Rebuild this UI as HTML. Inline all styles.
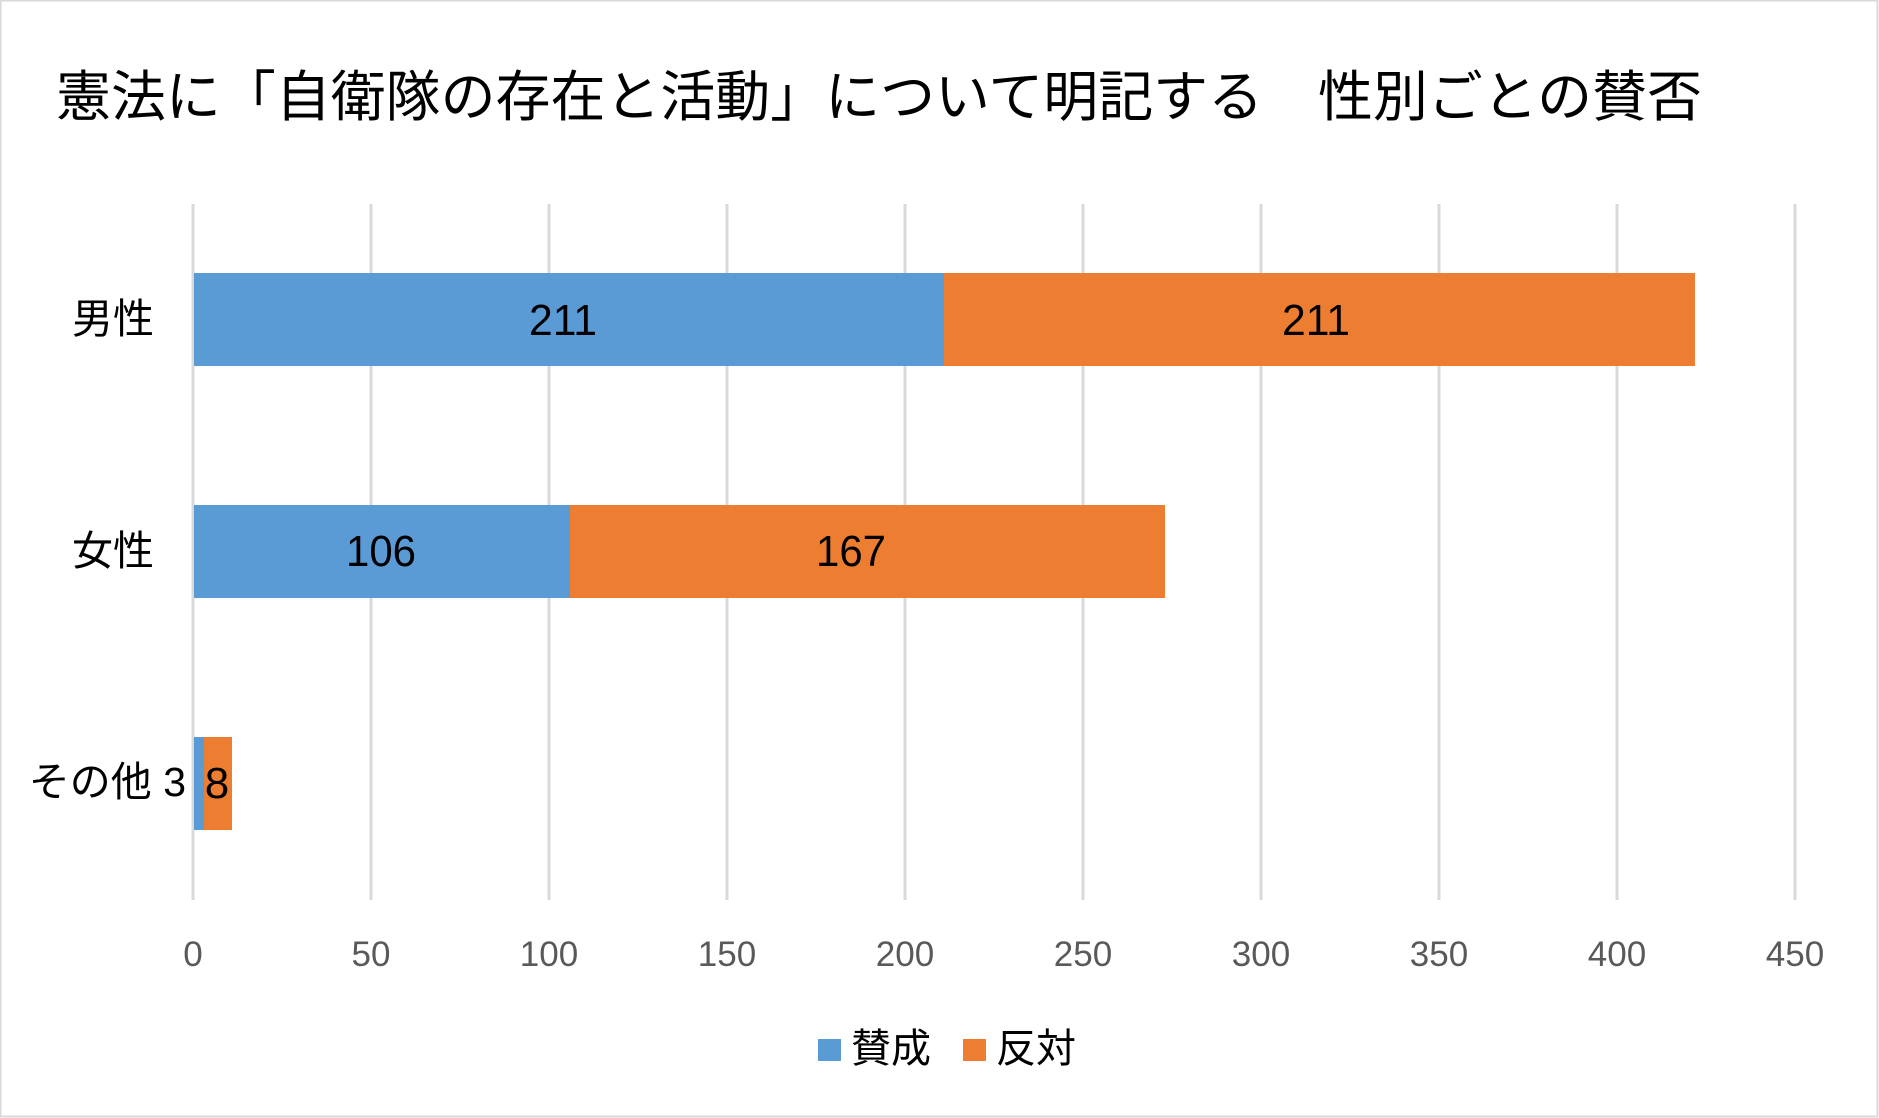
<!DOCTYPE html>
<html><head><meta charset="utf-8"><style>
html,body{margin:0;padding:0;background:#fff;}
svg{display:block;}
</style></head><body>
<svg width="1879" height="1118" xmlns="http://www.w3.org/2000/svg" font-family="'Liberation Sans','Noto Sans CJK JP',sans-serif">
<rect x="0.5" y="0.5" width="1877" height="1116" fill="#fff" stroke="#d9d9d9" stroke-width="2"/>
<text x="56" y="116" font-size="55" fill="#000" textLength="1646" lengthAdjust="spacingAndGlyphs">憲法に「自衛隊の存在と活動」について明記する　性別ごとの賛否</text>
<g stroke="#d9d9d9" stroke-width="3">
<line x1="193" y1="204" x2="193" y2="900"/>
<line x1="371" y1="204" x2="371" y2="900"/>
<line x1="549" y1="204" x2="549" y2="900"/>
<line x1="727" y1="204" x2="727" y2="900"/>
<line x1="905" y1="204" x2="905" y2="900"/>
<line x1="1083" y1="204" x2="1083" y2="900"/>
<line x1="1261" y1="204" x2="1261" y2="900"/>
<line x1="1439" y1="204" x2="1439" y2="900"/>
<line x1="1617" y1="204" x2="1617" y2="900"/>
<line x1="1795" y1="204" x2="1795" y2="900"/>
</g>
<rect x="194" y="273" width="750" height="93" fill="#5b9bd5"/>
<rect x="944" y="273" width="751" height="93" fill="#ed7d31"/>
<rect x="194" y="505" width="376" height="93" fill="#5b9bd5"/>
<rect x="570" y="505" width="595" height="93" fill="#ed7d31"/>
<rect x="194" y="737" width="10" height="93" fill="#5b9bd5"/>
<rect x="204" y="737" width="28" height="93" fill="#ed7d31"/>
<g font-size="44" fill="#000" text-anchor="middle">
<text x="563" y="335" textLength="68" lengthAdjust="spacingAndGlyphs">211</text>
<text x="1316" y="335" textLength="68" lengthAdjust="spacingAndGlyphs">211</text>
<text x="381" y="566" textLength="70" lengthAdjust="spacingAndGlyphs">106</text>
<text x="851" y="566" textLength="70" lengthAdjust="spacingAndGlyphs">167</text>
<text x="217" y="798">8</text>
</g>
<g font-size="41" fill="#000" text-anchor="end">
<text x="154" y="333">男性</text>
<text x="154" y="565">女性</text>
<text x="186" y="796">その他 3</text>
</g>
<g font-size="35" fill="#595959" text-anchor="middle">
<text x="193" y="966">0</text>
<text x="371" y="966">50</text>
<text x="549" y="966">100</text>
<text x="727" y="966">150</text>
<text x="905" y="966">200</text>
<text x="1083" y="966">250</text>
<text x="1261" y="966">300</text>
<text x="1439" y="966">350</text>
<text x="1617" y="966">400</text>
<text x="1795" y="966">450</text>
</g>
<rect x="818" y="1039" width="23" height="22" fill="#5b9bd5"/>
<text x="851" y="1062" font-size="40" fill="#000">賛成</text>
<rect x="963" y="1039" width="23" height="22" fill="#ed7d31"/>
<text x="996" y="1062" font-size="40" fill="#000">反対</text>
</svg>
</body></html>
